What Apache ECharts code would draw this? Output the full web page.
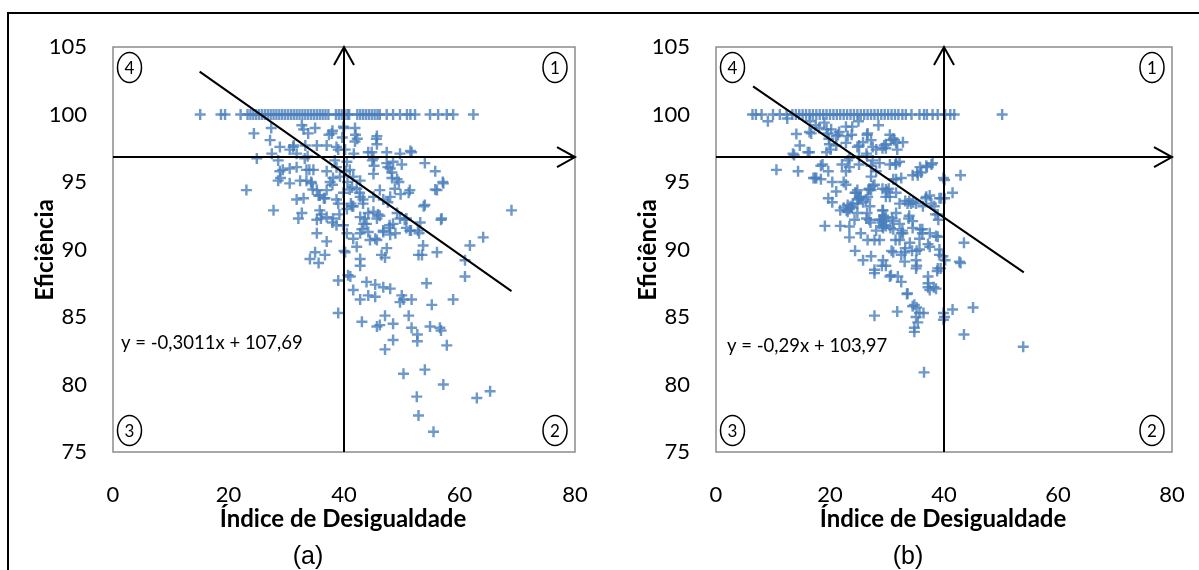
<!DOCTYPE html>
<html>
<head>
<meta charset="utf-8">
<script src="https://cdn.jsdelivr.net/npm/echarts@6/dist/echarts.min.js"></script>
<style>
  html, body { margin: 0; padding: 0; background: #fff; }
  #chart { width: 1199px; height: 570px; }
</style>
</head>
<body>
<div id="chart"></div>
<script>
// ---------- data: panel (a) ----------
// DMUs on the efficient frontier (efficiency = 100), by inequality index
const frontierA = [15.1, 18.7, 19.4, 22.1, 23.3, 23.8, 24.3, 24.8, 25.3, 25.8, 26.3, 26.8, 27.3, 27.8,
  28.3, 28.8, 29.3, 29.8, 30.3, 30.8, 31.3, 31.8, 32.3, 32.8, 33.3, 33.8, 34.3, 34.8, 35.3, 35.8,
  36.3, 36.8, 37.3, 38.6, 39.1, 39.6, 40.1, 40.6, 40.9, 42.3, 42.8, 43.3, 43.8, 44.3, 44.8, 45.3,
  45.8, 46.2, 47.4, 48.5, 49.7, 50.9, 51.5, 52.3, 54.9, 56.3, 57.8, 58.9, 62.4];

// remaining DMUs: [inequality index, efficiency]
const pointsA = [
  [24.4,98.6],[27.2,98.1],[27.4,99.0],[24.9,96.75],[23.1,94.4],[27.8,92.9],[28.9,97.6],[27.5,97.1],
  [28.6,96.6],[28.9,95.8],[30.6,96.0],[31.8,96.1],[28.6,95.1],[29.0,95.3],[31.2,97.6],[30.6,97.4],
  [31.8,97.1],[32.7,99.2],[33.8,98.6],[33.0,98.9],[33.2,96.75],[35.3,97.7],[37.0,97.7],[33.5,95.9],
  [34.7,95.9],[32.4,95.1],[30.6,94.9],[33.5,95.1],[34.4,94.9],[31.8,93.7],[33.0,93.8],[32.1,92.3],
  [32.7,92.7],[35.3,94.4],[35.8,94.0],[36.7,93.8],[37.0,92.4],[36.1,92.6],[38.1,92.3],[38.7,91.8],
  [39.9,91.8],[37.0,95.8],[38.1,95.3],[38.0,94.8],[38.7,96.1],[38.4,96.6],[38.7,97.6],[37.9,98.6],
  [38.0,98.8],[39.9,99.1],[39.7,98.3],[35.0,99.0],[37.4,98.5],[35.3,92.2],[35.8,92.9],[37.0,94.4],
  [38.7,93.7],[39.3,95.4],[39.9,94.2],[39.0,93.4],[39.2,92.6],[34.6,94.45],[34.0,95.9],[33.7,96.9],
  [36.0,92.3],[37.6,95.0],[39.0,97.4],[36.5,93.8],[29.4,95.9],[31.3,97.7],[33.3,97.7],[34.3,95.0],
  [35.6,94.0],[38.0,92.0],
  [41.9,99.0],[42.0,98.5],[41.9,98.0],[45.7,98.4],[45.7,97.8],[44.8,97.2],[47.4,97.2],[49.7,97.1],
  [51.7,97.2],[51.5,97.3],[41.7,97.1],[40.2,97.4],[40.5,96.5],[45.1,96.75],[45.2,96.2],[47.4,96.4],
  [48.5,96.5],[48.0,96.0],[50.0,96.3],[54.0,96.4],[55.8,95.8],[57.2,94.9],[56.1,94.4],[45.1,95.6],
  [48.3,95.7],[48.3,95.3],[49.2,95.2],[48.8,94.5],[49.8,94.1],[51.4,94.4],[46.2,94.4],[42.8,95.1],
  [41.4,94.6],[42.8,93.9],[45.1,93.9],[46.8,93.7],[48.0,93.9],[54.0,93.3],[56.9,92.3],[69.0,92.9],
  [40.5,93.0],[41.4,93.2],[44.2,92.7],[45.1,92.8],[46.2,92.5],[43.9,91.9],[45.7,92.3],[48.5,91.9],
  [47.9,91.6],[49.7,92.3],[50.8,92.3],[51.4,91.4],[52.8,91.4],[40.5,91.2],[42.8,91.2],[46.8,91.3],
  [50.8,91.6],[40.3,95.8],[40.6,95.0],[41.0,94.45],[41.2,93.4],[42.2,94.5],[42.7,94.2],[43.3,93.7],
  [41.6,93.2],[42.8,92.4],[43.4,91.9],[41.0,95.9],[41.6,95.4],[42.3,98.2],[44.2,97.2],[44.9,96.6],
  [45.6,98.2],[47.6,96.1],[47.6,93.5],[49.2,92.7],[49.5,95.0],[50.5,92.2],[51.2,94.2],[53.2,92.0],
  [53.8,93.2],[55.8,94.45],[57.1,95.0],[56.8,92.2],[40.0,99.0],[43.3,93.4],[43.6,92.3],[45.9,92.6],
  [47.9,91.8],
  [35.3,91.2],[37.0,90.6],[35.0,89.8],[34.1,89.3],[35.6,89.0],[36.7,89.6],[39.0,87.7],[39.0,85.3],
  [40.2,89.8],[40.7,88.1],[41.6,90.8],[41.6,87.0],[42.2,90.2],[42.8,89.3],[42.8,88.8],[43.1,84.65],
  [43.9,87.6],[42.8,86.3],[44.2,86.6],[45.4,87.4],[45.4,86.5],[46.8,87.2],[48.0,87.1],[45.7,84.3],
  [46.2,84.4],[47.1,85.1],[48.5,84.5],[48.5,83.3],[47.1,82.6],[44.5,90.7],[45.4,90.8],[45.7,90.7],
  [46.5,89.6],[47.1,89.4],[47.4,90.1],[48.0,91.1],[48.9,91.2],[50.0,86.6],[50.3,86.3],[49.7,86.1],
  [51.7,86.3],[51.2,85.1],[51.7,84.2],[52.7,83.7],[52.7,83.2],[50.3,80.8],[54.0,81.1],[52.6,79.1],
  [52.9,77.7],[55.5,76.5],[57.2,80.0],[57.8,82.9],[54.9,84.3],[56.6,84.2],[56.8,84.0],[55.2,85.9],
  [54.3,87.5],[58.9,86.3],[60.95,88.0],[60.95,89.2],[61.8,90.3],[64.1,90.9],[63.0,79.0],[65.3,79.5],
  [56.1,89.8],[53.5,89.6],[52.9,89.6],[53.7,90.3],[53.0,91.2],[51.6,91.4],[43.1,91.5],[44.2,91.3],
  [46.8,91.4],[41.1,88.0],[40.0,89.9]
];

// linear trend: [slope, intercept] and the x span it is drawn over
const trendA = [-0.3011, 107.69];
const trendSpanA = [15, 69];

// ---------- data: panel (b) ----------
const frontierB = [6.4, 7.0, 8.0, 10.0, 11.2, 12.4, 13.4, 14.0, 14.6, 15.2, 15.8, 16.4, 17.0, 17.6,
  18.2, 18.8, 19.4, 20.0, 20.6, 21.2, 21.8, 22.4, 23.0, 23.6, 24.2, 24.8, 25.4, 26.0, 26.6, 27.2,
  27.8, 28.4, 29.0, 29.6, 30.2, 30.8, 31.4, 32.0, 32.7, 33.3, 34.3, 35.7, 36.5, 37.0, 38.0, 38.9,
  40.2, 41.1, 41.8, 50.2];

const pointsB = [
  [9.1,99.5],[12.5,99.7],[16.5,99.5],[19.0,99.4],[25.0,99.5],[28.5,99.2],[17.5,99.2],
  [14.1,98.55],[14.4,95.8],[10.6,95.9],[13.7,97.0],[14.7,97.7],[16.1,97.2],[16.7,98.6],[17.4,95.3],
  [18.4,96.2],[19.1,91.75],[21.8,91.75],[19.7,93.8],[20.4,93.5],[21.1,94.3],[22.4,93.1],[23.4,90.9],
  [24.4,89.9],[25.8,89.2],[25.4,91.2],[27.8,88.25],[27.8,85.1],[29.1,88.8],[30.5,88.0],[32.5,87.6],
  [31.8,85.4],[33.5,86.7],[34.8,84.2],[35.2,85.7],[36.4,85.3],[36.5,80.9],[37.2,88.0],[38.2,87.2],
  [38.8,88.4],[39.2,89.6],[40.2,89.2],[39.9,85.3],[41.5,85.55],[42.9,89.0],[43.5,90.5],[41.5,94.2],
  [42.9,95.5],[39.9,95.3],[39.5,93.8],[43.5,83.7],[45.1,85.7],[53.9,82.8],[37.8,96.3],[35.8,96.1],
  [34.5,95.5],[36.8,93.8],[37.8,93.4],[38.5,92.6],[38.9,90.95],[37.2,90.4],[35.8,91.5],[35.2,89.9],
  [35.2,88.8],[33.8,92.3],[34.2,93.4],[33.2,93.6],[32.5,95.3],[31.5,96.3],[31.8,97.4],[31.1,98.2],
  [32.8,97.95],[29.5,97.7],[30.5,96.3],[29.8,94.45],[30.5,93.9],[29.5,92.3],[29.1,92.0],[29.8,91.75],
  [31.1,91.5],[31.5,90.7],[32.5,91.2],[33.2,90.1],[30.8,89.9],[32.5,89.6],[27.8,90.7],[27.1,92.0],
  [26.4,92.3],[26.8,94.45],[27.5,94.7],[28.1,95.8],[27.5,96.6],[26.5,96.9],[25.8,97.95],[26.5,98.5],
  [25.1,97.7],[23.8,98.5],[23.1,96.6],[23.4,96.1],[25.1,96.3],[24.4,94.2],[25.1,93.8],[23.8,93.1],
  [23.1,92.8],[25.8,93.5],[21.4,98.5],[21.1,97.7],[20.1,97.4],[19.4,97.2],[19.7,95.8],[20.4,95.0],
  [22.4,95.0],[18.1,99.0],[19.4,98.9],[19.8,98.2],[22.1,96.3],[17.1,95.3],
  [26.6,90.7],[27.2,89.5],[27.8,88.5],[28.7,90.7],[29.3,89.2],[29.8,88.8],[30.7,88.1],[31.9,88.0],
  [33.6,86.75],[34.5,85.8],[35.1,85.0],[35.7,85.3],[40.1,85.0],[37.2,87.2],[38.6,87.1],[35.1,88.6],
  [35.1,89.2],[35.7,90.0],[34.4,89.9],[33.1,89.8],[33.1,89.1],[31.1,89.8],[32.2,90.7],[32.8,91.2],
  [34.0,90.5],[37.5,90.2],[38.6,91.0],[36.2,91.2],[42.7,89.1],[40.1,93.8],[38.3,93.2],[36.9,93.9],
  [36.3,93.2],[35.1,93.4],[33.9,93.6],[32.2,93.4],[31.6,92.7],[33.9,92.5],[34.5,92.1],[36.2,91.5],
  [37.5,91.2],[39.0,92.2],[32.2,91.9],[31.1,92.1],[30.6,91.6],[29.3,92.9],[29.4,92.5],[29.5,92.1],
  [29.4,91.8],[29.3,91.6],[28.7,92.2],[26.9,92.2],[26.5,92.7],[27.0,93.2],[24.9,93.7],[24.0,93.4],
  [23.4,93.0],[23.1,93.3],[24.6,94.2],[25.2,93.9],[26.3,93.7],[26.9,94.5],[30.1,94.3],
  [37.5,87.0],[37.2,87.5],
  [13.5,97.1],[16.4,97.2],[16.4,98.7],[17.6,95.3],[18.4,95.2],[18.7,96.3],[19.9,97.8],[19.6,98.6],
  [20.2,98.9],[21.1,98.4],[21.6,98.7],[22.8,94.8],[22.8,95.8],[23.4,96.8],[22.8,97.9],[23.1,98.4],
  [22.8,99.1],[23.9,99.1],[24.8,97.6],[25.1,96.9],[26.4,97.1],[26.6,98.6],[27.2,98.1],[27.5,97.6],
  [28.7,96.4],[29.2,97.5],[29.8,97.8],[30.7,98.1],[31.6,96.4],[27.2,95.4],[27.8,94.8],[27.2,94.4],
  [26.6,93.9],[24.8,94.4],[25.4,93.9],[24.8,93.4],[23.6,93.2],[22.9,92.9],[21.8,92.9],[24.8,92.7],
  [24.3,92.2],[29.8,93.9],[29.2,92.9],[28.9,92.2],[29.8,92.4],[29.2,91.7],[23.4,91.7],[31.6,95.2],
  [31.6,94.2],
  [38.0,96.4],[36.9,96.2],[36.0,95.7],[35.4,95.5],[40.1,95.15],[39.2,93.8],[37.5,94.0],[34.6,93.5],
  [33.6,93.4],[39.2,90.0],[35.7,90.8],[34.5,91.6],[32.7,91.4],[30.9,92.3],[28.1,91.4],[31.6,97.9],
  [30.5,98.5],[31.3,98.1],[28.1,97.4],[29.8,97.5],[27.2,96.2],[32.2,96.5],[31.1,95.2],[30.3,94.5],
  [29.2,94.5],[38.9,88.6],[39.8,89.5],[39.4,88.6],[39.9,84.8],[34.8,85.9],[35.4,84.6],[34.8,83.9],
  [37.0,96.1],[35.3,95.7],[38.9,92.6]
];

const trendB = [-0.29, 103.97];
const trendSpanB = [6.5, 54];

// quadrant dividers: [inequality index, efficiency]
const dividers = [40, 96.85];

// axis ranges and ticks
const xRange = [0, 80], xStep = 20;
const yRange = [75, 105], yStep = 5;

// titles
const xTitle = 'Índice de Desigualdade';
const yTitle = 'Eficiência';
const panelTags = ['(a)', '(b)'];

// ---------- drawing ----------
const FONT = 'Lato';
const BLUE = '#4a7ebb';
const PLUS = 'path://M3.9,0H6.1V3.9H10V6.1H6.1V10H3.9V6.1H0V3.9H3.9Z';

function fmt(v) { return String(v).replace('.', ','); }
function equation(t) {
  const s = t[0] < 0 ? '-' + fmt(Math.abs(t[0])) : fmt(t[0]);
  return 'y = ' + s + 'x + ' + fmt(t[1]);
}

// open-chevron arrow from (x0,y0) to (x1,y1) in data space
function arrowItem(params, api) {
  const p0 = api.coord([api.value(0), api.value(1)]);
  const p1 = api.coord([api.value(2), api.value(3)]);
  const a = Math.atan2(p1[1] - p0[1], p1[0] - p0[0]);
  const L = 18, W = 10;
  const bx = p1[0] - L * Math.cos(a), by = p1[1] - L * Math.sin(a);
  const nx = -Math.sin(a), ny = Math.cos(a);
  return {
    type: 'group',
    children: [
      { type: 'line', shape: { x1: p0[0], y1: p0[1], x2: p1[0], y2: p1[1] },
        style: { stroke: '#000', lineWidth: 2 } },
      { type: 'polyline', shape: { points: [[bx + nx * W, by + ny * W], [p1[0], p1[1]], [bx - nx * W, by - ny * W]] },
        style: { stroke: '#000', lineWidth: 2, fill: null } }
    ]
  };
}

const grids = [
  { left: 113, top: 47, width: 462, height: 405 },
  { left: 716, top: 47, width: 456, height: 405 }
];

function makeAxes(i) {
  return {
    x: {
      gridIndex: i, type: 'value', min: xRange[0], max: xRange[1], interval: xStep,
      axisLine: { show: false }, axisTick: { show: false }, splitLine: { show: false },
      axisLabel: { fontFamily: FONT, fontSize: 22, color: '#000', margin: 32 }
    },
    y: {
      gridIndex: i, type: 'value', min: yRange[0], max: yRange[1], interval: yStep,
      axisLine: { show: false }, axisTick: { show: false }, splitLine: { show: false },
      axisLabel: { fontFamily: FONT, fontSize: 22, color: '#000', margin: 26 }
    }
  };
}

function makeSeries(i, frontier, points, trend, span) {
  const common = { xAxisIndex: i, yAxisIndex: i };
  return [
    Object.assign({ type: 'scatter', symbol: PLUS, symbolSize: 11,
      itemStyle: { color: BLUE }, data: frontier.map(x => [x, 100]), z: 2 }, common),
    Object.assign({ type: 'scatter', symbol: PLUS, symbolSize: 11,
      itemStyle: { color: BLUE }, data: points, z: 2 }, common),
    Object.assign({ type: 'line', symbol: 'none', silent: true,
      lineStyle: { color: '#000', width: 2 }, z: 4,
      data: span.map(x => [x, trend[0] * x + trend[1]]) }, common),
    Object.assign({ type: 'custom', renderItem: arrowItem, silent: true, z: 5,
      data: [
        [dividers[0], yRange[0], dividers[0], yRange[1]],
        [xRange[0], dividers[1], xRange[1], dividers[1]]
      ] }, common)
  ];
}

function quadrantMarks(g) {
  const out = [];
  const cx = [g.left + 16.5, g.left + g.width - 20];
  const cy = [g.top + 20.5, g.top + g.height - 21.5];
  const spots = [['4', cx[0], cy[0]], ['1', cx[1], cy[0]], ['3', cx[0], cy[1]], ['2', cx[1], cy[1]]];
  spots.forEach(s => {
    out.push({ type: 'ellipse', shape: { cx: s[1], cy: s[2], rx: 12, ry: 15 },
      style: { fill: '#fff', stroke: '#000', lineWidth: 1.5 }, z: 10 });
    out.push({ type: 'text', x: s[1], y: s[2] + 1,
      style: { text: s[0], font: '17px ' + FONT, fill: '#000', align: 'center', verticalAlign: 'middle' }, z: 11 });
  });
  return out;
}

function titles(g, tag) {
  const cx = g.left + g.width / 2;
  return [
    { type: 'text', x: cx - 1, y: 519,
      style: { text: xTitle, font: 'bold 24px ' + FONT, fill: '#000', align: 'center', verticalAlign: 'middle' } },
    { type: 'text', x: g.left - 68, y: 250, rotation: Math.PI / 2,
      style: { text: yTitle, font: 'bold 24px ' + FONT, fill: '#000', align: 'center', verticalAlign: 'middle' } },
    { type: 'text', x: cx - 36, y: 557,
      style: { text: tag, font: '25px "Liberation Sans"', fill: '#000', align: 'center', verticalAlign: 'middle' } }
  ];
}

const axA = makeAxes(0), axB = makeAxes(1);

const option = {
  animation: false,
  backgroundColor: '#fff',
  grid: grids.map(g => Object.assign({ show: true, borderColor: '#8c8c8c', borderWidth: 1.5,
    backgroundColor: 'transparent' }, g)),
  xAxis: [axA.x, axB.x],
  yAxis: [axA.y, axB.y],
  series: [].concat(
    makeSeries(0, frontierA, pointsA, trendA, trendSpanA),
    makeSeries(1, frontierB, pointsB, trendB, trendSpanB)
  ),
  graphic: [].concat(
    [{ type: 'rect', shape: { x: 8, y: 13, width: 1400, height: 800 },
       style: { fill: null, stroke: '#000', lineWidth: 2 }, z: 0, silent: true }],
    quadrantMarks(grids[0]),
    quadrantMarks(grids[1]),
    titles(grids[0], panelTags[0]),
    titles(grids[1], panelTags[1]),
    [
      { type: 'text', x: 121, y: 343,
        style: { text: equation(trendA), font: '18.5px ' + FONT, fill: '#000', verticalAlign: 'middle' }, z: 12 },
      { type: 'text', x: 727, y: 346,
        style: { text: equation(trendB), font: '18.5px ' + FONT, fill: '#000', verticalAlign: 'middle' }, z: 12 }
    ]
  )
};

const chart = echarts.init(document.getElementById('chart'), null, { renderer: 'canvas' });
chart.setOption(option);
</script>
</body>
</html>
